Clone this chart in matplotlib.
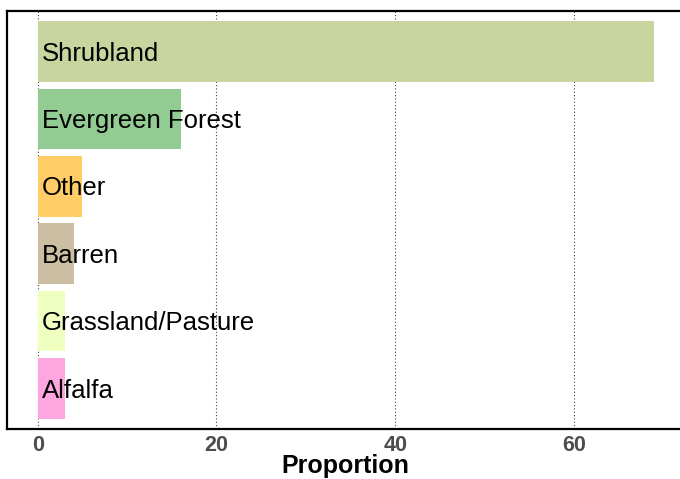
import matplotlib
matplotlib.use("Agg")
import matplotlib.pyplot as plt

categories = ["Shrubland", "Evergreen Forest", "Other", "Barren", "Grassland/Pasture", "Alfalfa"]
values = [69, 16, 5, 4, 3, 3]
colors = ["#c8d59f", "#93cc93", "#ffcc66", "#ccbea2", "#eeffc0", "#ffa6e1"]
xticks = [0, 20, 40, 60]

plt.rcParams['font.family'] = ['Liberation Sans', 'DejaVu Sans']

fig = plt.figure(figsize=(6.8, 4.79), dpi=100)
W, H = 680, 479
left_px, right_px, top_px, bottom_px = 7, 685, 11, 429
ax = fig.add_axes([left_px / W, 1 - bottom_px / H, (right_px - left_px) / W, (bottom_px - top_px) / H])

n = len(categories)
ypos = [n - 1 - i for i in range(n)]
ax.barh(ypos, values, height=0.9, color=colors, zorder=2)
for y, c in zip(ypos, categories):
    ax.annotate(c, (0, y), xytext=(3, -1.5), textcoords="offset points",
                ha="left", va="center", fontsize=18.5, color="black", zorder=3)

ax.set_xlim(-3.45, 72.45)
ax.set_ylim(-0.6, n - 0.4)
ax.set_xticks(xticks)
ax.set_xticklabels([str(t) for t in xticks], fontsize=15.5, fontweight="bold", color="#4d4d4d")
ax.set_yticks([])
ax.tick_params(axis="x", length=0, pad=4)
ax.xaxis.grid(True, linestyle=(0, (1, 2)), color="#444444", linewidth=0.8, zorder=0)
ax.set_axisbelow(True)
for s in ax.spines.values():
    s.set_linewidth(1.6)
    s.set_color("black")
ax.set_xlabel("Proportion", fontsize=18, fontweight="bold")
ax.xaxis.label.set_va("baseline")
ax.xaxis.set_label_coords((345 - left_px) / (right_px - left_px), -(473 - bottom_px) / (bottom_px - top_px))

fig.savefig("out.png", dpi=100)
